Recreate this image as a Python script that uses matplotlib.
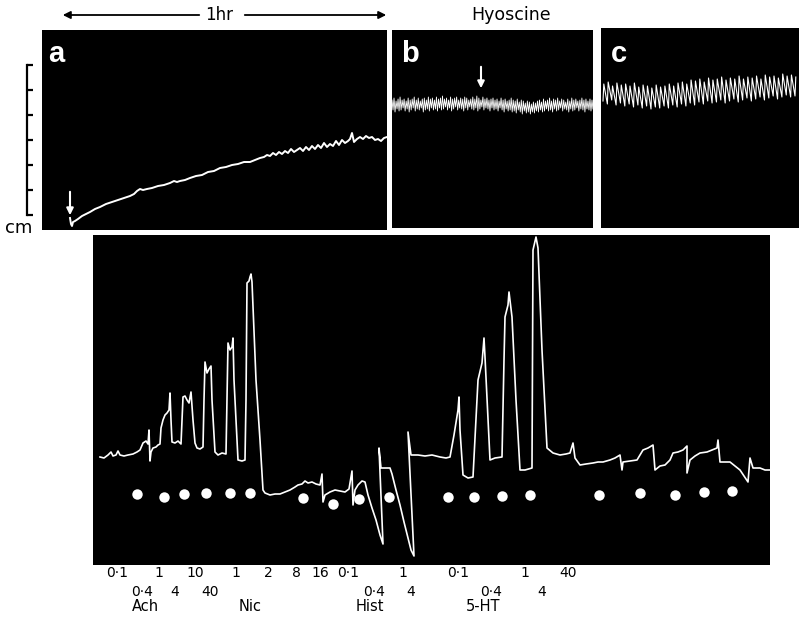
import numpy as np
import matplotlib
matplotlib.use("Agg")
import matplotlib.pyplot as plt

W, H = 799, 627

# panel a: slow rise of tone after drug (time px, pen position px)
a_t = [70, 71, 72, 73, 75, 78, 82, 86, 90, 95,
       100, 106, 112, 118, 124, 130, 134, 137, 140, 143,
       147, 152, 158, 164, 170, 174, 177, 180, 185, 190,
       196, 202, 208, 214, 220, 226, 232, 238, 244, 250,
       255, 260, 264, 267, 270, 273, 276, 279, 282, 285,
       288, 291, 294, 297, 300, 303, 306, 309, 312, 315,
       318, 321, 324, 327, 330, 333, 336, 339, 342, 345,
       348, 350, 352, 354, 357, 360, 363, 366, 369, 372,
       375, 378, 381, 384, 387]
a_y = [218, 224, 226, 222, 221, 219, 216, 214, 212, 209,
       207, 204, 202, 200, 198, 196, 194, 191, 189, 190,
       189, 188, 186, 185, 183, 181, 182, 181, 180, 178,
       176, 175, 172, 171, 168, 167, 165, 164, 162, 162,
       160, 158, 157, 155, 156, 153, 155, 152, 154, 151,
       153, 149, 152, 150, 148, 151, 147, 150, 146, 149,
       145, 148, 143, 147, 144, 146, 141, 145, 140, 143,
       141, 139, 133, 142, 139, 137, 139, 136, 138, 137,
       140, 139, 141, 138, 137]

# panel b: hyoscine, fast small oscillations
b_high = [100, 98, 101, 99, 97, 100, 99, 101, 98, 100,
          99, 97, 100, 98, 101, 99, 98, 100, 97, 99,
          98, 100, 97, 99, 98, 96, 99, 98, 100, 97,
          99, 98, 97, 100, 98, 99, 97, 98, 100, 99,
          97, 99, 96, 98, 100, 97, 99, 98, 100, 99,
          98, 100, 99, 101, 98, 100, 99, 101, 100, 98,
          100, 101, 99, 102, 100, 101, 103, 101, 102, 104,
          102, 103, 101, 100, 102, 99, 101, 100, 98, 101,
          99, 100, 98, 101, 99, 100, 102, 99, 101, 98,
          100, 99, 101, 100, 98, 100, 99, 101, 99, 100]
b_low = [110, 112, 109, 111, 110, 108, 111, 109, 112, 110,
         108, 111, 109, 110, 108, 112, 110, 109, 111, 108,
         110, 109, 111, 108, 110, 109, 107, 110, 108, 111,
         109, 107, 110, 108, 109, 111, 108, 110, 107, 109,
         110, 108, 111, 109, 107, 110, 108, 109, 111, 108,
         110, 109, 111, 108, 110, 112, 109, 111, 110, 112,
         111, 113, 110, 112, 114, 111, 113, 112, 114, 112,
         113, 111, 112, 110, 112, 111, 109, 111, 110, 112,
         109, 111, 110, 108, 111, 109, 110, 112, 109, 111,
         110, 108, 111, 109, 110, 112, 109, 110, 111, 109]

# panel c: larger rhythmic contractions
c_high = [84, 82, 86, 83, 85, 84, 86, 83, 87, 85,
          86, 88, 85, 87, 86, 84, 86, 83, 82, 84,
          80, 81, 79, 82, 78, 80, 79, 77, 80, 78,
          79, 76, 79, 77, 78, 76, 79, 75, 77, 76,
          78, 74, 76, 75, 77]
c_low = [101, 104, 100, 105, 103, 106, 104, 107, 105, 108,
         106, 109, 107, 108, 106, 108, 105, 107, 104, 106,
         103, 105, 102, 104, 101, 103, 102, 100, 103, 101,
         99, 102, 100, 98, 101, 99, 97, 100, 98, 96,
         99, 97, 95, 97, 96]

# lower trace: responses to Ach, Nic, Hist, 5-HT
trace_t = [100, 104, 108, 111, 113, 116, 118, 120, 124, 128,
           133, 137, 140, 143, 146, 148, 149, 150, 151, 153,
           156, 158, 160, 161, 163, 165, 167, 169, 170, 171,
           172, 175, 178, 181, 182, 183, 185, 187, 189, 191,
           193, 195, 197, 200, 203, 204, 205, 207, 209, 211,
           212, 215, 218, 222, 226, 227, 228, 230, 232, 233,
           234, 238, 242, 245, 246, 247, 249, 250, 251, 252,
           256, 260, 263, 265, 270, 275, 280, 285, 290, 295,
           298, 302, 305, 308, 312, 316, 320, 322, 323, 325,
           330, 335, 340, 345, 349, 352, 353, 355, 358, 362,
           365, 368, 372, 376, 380, 383, 379, 381, 386, 390,
           392, 396, 400, 404, 408, 411, 414, 408, 411, 418,
           425, 432, 440, 446, 450, 454, 458, 459, 460, 463,
           468, 473, 476, 478, 482, 484, 485, 488, 490, 495,
           502, 504, 505, 508, 509, 512, 516, 520, 525, 532,
           533, 536, 538, 542, 547, 553, 560, 566, 570, 573,
           575, 580, 586, 593, 598, 603, 610, 615, 620, 622,
           623, 630, 637, 640, 643, 648, 653, 655, 660, 665,
           670, 673, 678, 683, 687, 687, 690, 695, 700, 707,
           712, 717, 718, 720, 725, 730, 735, 740, 744, 748,
           750, 753, 760, 765, 770]
trace_y = [457, 458, 455, 452, 456, 455, 451, 455, 456, 455,
           454, 452, 450, 443, 441, 444, 430, 461, 452, 448,
           447, 445, 444, 428, 420, 415, 413, 410, 393, 420,
           442, 443, 441, 444, 420, 397, 396, 400, 403, 392,
           420, 443, 448, 449, 447, 400, 362, 373, 369, 366,
           400, 452, 455, 453, 454, 400, 343, 350, 347, 338,
           380, 460, 461, 460, 400, 283, 281, 277, 274, 282,
           380, 440, 490, 493, 495, 494, 494, 492, 490, 487,
           485, 484, 481, 483, 482, 484, 485, 474, 502, 495,
           492, 490, 491, 492, 489, 471, 505, 490, 485, 481,
           482, 495, 508, 520, 535, 544, 448, 468, 468, 468,
           474, 490, 505, 522, 538, 550, 556, 432, 455, 455,
           456, 455, 457, 458, 457, 435, 410, 397, 430, 475,
           478, 477, 420, 380, 363, 338, 357, 420, 460, 458,
           457, 360, 317, 305, 292, 317, 400, 470, 470, 468,
           250, 237, 248, 350, 448, 453, 455, 454, 453, 443,
           458, 465, 464, 463, 462, 462, 460, 458, 455, 470,
           462, 461, 460, 455, 450, 448, 445, 470, 466, 465,
           460, 453, 452, 450, 446, 473, 460, 456, 453, 452,
           450, 448, 440, 462, 462, 462, 466, 470, 476, 482,
           458, 468, 468, 470, 470]

# drug additions (white dots)
dose_t = [137, 164, 184, 206, 230, 250, 303, 333, 359, 389,
          448, 474, 502, 530, 599, 640, 675, 704, 732]
dose_y = [494, 497, 494, 493, 493, 493, 498, 504, 499, 497,
          497, 497, 496, 495, 495, 493, 495, 492, 491]

# dose labels under the trace
dose_labels = ["0·1", "0·4", "1", "4", "10", "40",
               "1", "2", "8", "16",
               "0·1", "0·4", "1", "4",
               "0·1", "0·4", "1", "4", "40"]
label_x = [117, 142, 159, 175, 195, 210,
           236, 268, 296, 320,
           348, 374, 403, 411,
           458, 491, 525, 542, 568]
label_row = [0, 1, 0, 1, 0, 1,
             0, 0, 0, 0,
             0, 1, 0, 1,
             0, 1, 0, 1, 0]
drugs = ["Ach", "Nic", "Hist", "5-HT"]
drug_x = [145, 250, 370, 483]

cm_ticks = [65, 90, 115, 140, 165, 190, 215]

fig = plt.figure(figsize=(W / 100, H / 100), dpi=100)


def add_panel(x0, y0, x1, y1):
    ax = fig.add_axes([x0 / W, 1 - y1 / H, (x1 - x0) / W, (y1 - y0) / H])
    ax.set_facecolor("black")
    ax.set_xlim(x0, x1)
    ax.set_ylim(y1, y0)
    ax.set_xticks([])
    ax.set_yticks([])
    for s in ax.spines.values():
        s.set_visible(False)
    return ax


ax_a = add_panel(42, 30, 387, 230)
ax_a.plot(a_t, a_y, color="white", lw=1.4)
# cm scale bar as offset left spine
sp = ax_a.spines["left"]
sp.set_visible(True)
sp.set_color("black")
sp.set_linewidth(1.6)
sp.set_position(("outward", 11))
sp.set_bounds(cm_ticks[0], cm_ticks[-1])
ax_a.set_yticks(cm_ticks)
ax_a.set_yticklabels([])
ax_a.tick_params(axis="y", direction="in", length=4.5, width=1.6, color="black")

ax_b = add_panel(392, 30, 593, 228)
b_t = np.linspace(392, 593, 2 * len(b_high))
b_y = np.empty(2 * len(b_high))
b_y[0::2] = b_high
b_y[1::2] = b_low
ax_b.plot(b_t, b_y, color="white", lw=0.6)

ax_c = add_panel(601, 28, 799, 228)
cycle = np.linspace(603, 795, len(c_high))
c_t = np.empty(2 * len(c_high))
c_t[0::2] = cycle
c_t[1::2] = cycle + 0.8
c_y = np.empty(2 * len(c_high))
c_y[0::2] = c_low
c_y[1::2] = c_high
ax_c.plot(c_t, c_y, color="white", lw=0.8)

ax_d = add_panel(93, 235, 770, 565)
ax_d.plot(trace_t, trace_y, color="white", lw=1.2)
ax_d.plot(dose_t, dose_y, "o", color="white", ms=7.5, mec="none")

# overlay for annotations in figure pixels
ov = fig.add_axes([0, 0, 1, 1])
ov.set_xlim(0, W)
ov.set_ylim(H, 0)
ov.axis("off")
ov.patch.set_visible(False)

txt_font = ["DejaVu Sans"]
ov.text(219, 15, "1hr", ha="center", va="center", fontsize=12, family=txt_font)
ov.annotate("", xy=(60, 15), xytext=(202, 15),
            arrowprops=dict(arrowstyle="-|>", color="black", lw=1.3, mutation_scale=11))
ov.annotate("", xy=(389, 15), xytext=(242, 15),
            arrowprops=dict(arrowstyle="-|>", color="black", lw=1.3, mutation_scale=11))
ov.text(511, 15, "Hyoscine", ha="center", va="center", fontsize=12.5, family=txt_font)
ov.text(19, 228, "cm", ha="center", va="center", fontsize=13, family=txt_font)

for lab, x in zip(["a", "b", "c"], [48, 401, 611]):
    ov.text(x, 62, lab, ha="left", va="baseline", fontsize=21, fontweight="bold",
            color="white", family=["Liberation Sans", "DejaVu Sans"])

ov.annotate("", xy=(70, 218), xytext=(70, 189),
            arrowprops=dict(arrowstyle="-|>", color="white", lw=1.5, mutation_scale=10))
ov.annotate("", xy=(481, 91), xytext=(481, 64),
            arrowprops=dict(arrowstyle="-|>", color="white", lw=1.5, mutation_scale=10))

row_base = [577, 596]
for lab, x, r in zip(dose_labels, label_x, label_row):
    ov.text(x, row_base[r], lab, ha="center", va="baseline", fontsize=10, family=txt_font)
for lab, x in zip(drugs, drug_x):
    ov.text(x, 611, lab, ha="center", va="baseline", fontsize=10.5, family=txt_font)

fig.savefig("out.png", dpi=100)
